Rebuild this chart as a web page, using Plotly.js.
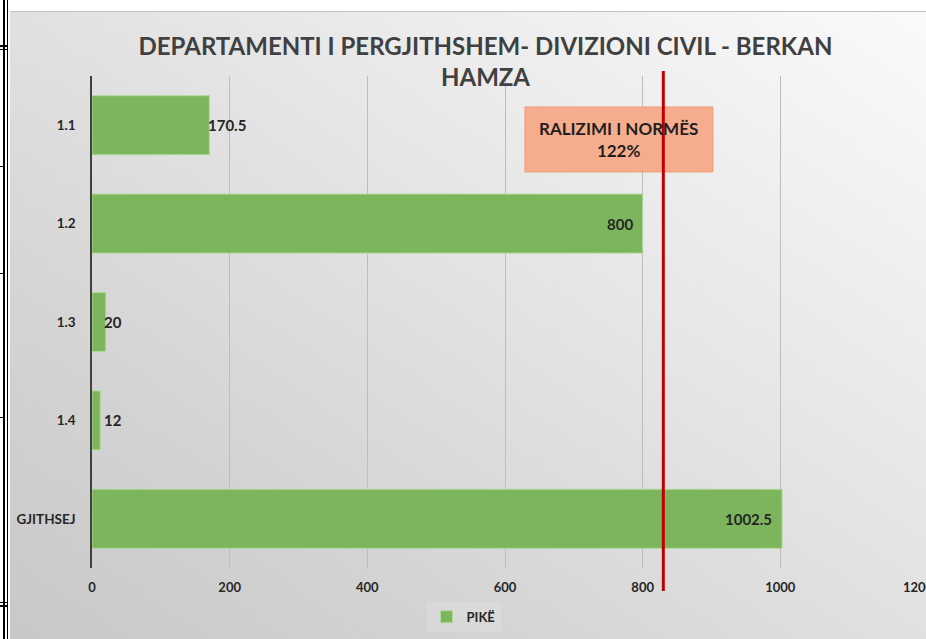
<!DOCTYPE html>
<html><head><meta charset="utf-8">
<script src="https://cdn.plot.ly/plotly-3.0.1.min.js"></script>
<style>
html,body{margin:0;padding:0;background:#fff;width:926px;height:639px;overflow:hidden;}
#bg{position:absolute;left:10px;top:11px;width:916px;height:628px;
  background:linear-gradient(to bottom left,#fafafa 0%,#e6e6e6 40%,#d3d3d3 75%,#c8c8c8 100%);
  border-top:1px solid #c2c2c2;}
#chart{position:absolute;left:0;top:0;width:926px;height:639px;}
.fr{position:absolute;background:#000;}
</style></head><body>
<div id="bg"></div>
<div class="fr" style="left:3px;top:0;width:1.5px;height:639px"></div>
<div class="fr" style="left:6.5px;top:0;width:1.5px;height:639px"></div>
<div class="fr" style="left:0;top:45px;width:8px;height:1.5px"></div>
<div class="fr" style="left:0;top:48.5px;width:8px;height:1.5px"></div>
<div class="fr" style="left:0;top:166px;width:4px;height:1px"></div>
<div class="fr" style="left:0;top:273px;width:4px;height:1px"></div>
<div class="fr" style="left:0;top:417px;width:4px;height:1px"></div>
<div class="fr" style="left:0;top:601.5px;width:8px;height:1.5px"></div>
<div class="fr" style="left:0;top:605px;width:8px;height:1.5px"></div>
<div id="chart"></div>
<script>
// ---- data ----
const categories = ['1.1', '1.2', '1.3', '1.4', 'GJITHSEJ'];
const values = [170.5, 800, 20, 12, 1002.5];
const seriesName = 'PIKË';
const xTickVals = [0, 200, 400, 600, 800, 1000, 1200];
const xTickText = ['0', '200', '400', '600', '800', '1000', '1200'];
const normValue = 830;               // red reference line (estimated)
const normLabel = ['RALIZIMI I NORMËS', '122%'];
const titleLines = ['DEPARTAMENTI I PERGJITHSHEM- DIVIZIONI CIVIL - BERKAN', 'HAMZA'];

// ---- layout geometry ----
const W = 926, H = 639;
const M = {l: 92, r: 8, t: 76, b: 70};
const plotW = W - M.l - M.r;
const xMax = 1200;
const pxPerUnit = plotW / xMax;
const FONT = 'Lato, "Open Sans", sans-serif';
const DARK = '#262626';

const trace = {
  type: 'bar',
  orientation: 'h',
  name: seriesName,
  y: categories,
  x: values,
  marker: {color: '#7db55d', line: {color: '#b3d89d', width: 1}},
  hoverinfo: 'x+y',
  showlegend: true
};

// data labels: inside end for long bars, straddling the end for short ones
// (y given as category index so numeric-looking names are not misread)
const labelAnns = values.map((v, i) => {
  const barPx = v * pxPerUnit;
  const base = {x: v, y: i, xref: 'x', yref: 'y', text: String(v), showarrow: false,
    yanchor: 'middle', font: {family: FONT, size: 15, color: DARK, weight: 700}};
  if (barPx > 200) return Object.assign(base, {xanchor: 'right', xshift: -8});
  return Object.assign(base, {xanchor: 'left', xshift: Math.max(-3.5, 10 - barPx)});
});

const boxAnn = {
  x: 765.5, y: 0.871, xref: 'x', yref: 'paper',
  text: normLabel.join('<br>'), showarrow: false,
  xanchor: 'center', yanchor: 'middle',
  font: {family: FONT, size: 17, color: '#1f1f1f', weight: 700}
};

const layout = {
  width: W, height: H,
  margin: M,
  paper_bgcolor: 'rgba(0,0,0,0)',
  plot_bgcolor: 'rgba(0,0,0,0)',
  font: {family: FONT, color: DARK},
  title: {
    text: titleLines.join('<br>'),
    x: 485.5 / W, xref: 'container', xanchor: 'center',
    y: 1 - 55 / H, yref: 'container', yanchor: 'top',
    font: {family: FONT, size: 24, color: '#404040', weight: 700}
  },
  bargap: 0.4,
  xaxis: {
    range: [0, xMax], tickvals: xTickVals, ticktext: xTickText,
    showgrid: true, gridcolor: '#bdbdbd', gridwidth: 1,
    zeroline: false, showline: false, ticks: '',
    ticklabelstandoff: 10, ticklabeloverflow: 'allow',
    tickfont: {family: FONT, size: 13, color: DARK, weight: 700},
    fixedrange: true
  },
  yaxis: {
    type: 'category', categoryorder: 'array', categoryarray: categories,
    autorange: 'reversed',
    showgrid: false, zeroline: false,
    showline: true, linecolor: '#404040', linewidth: 1.5,
    ticks: '', ticklabelstandoff: 12,
    tickfont: {family: FONT, size: 13.5, color: DARK, weight: 700},
    fixedrange: true
  },
  legend: {
    orientation: 'h', x: 0.405, xanchor: 'left', y: -0.097, yanchor: 'middle',
    bgcolor: 'rgba(255,255,255,0.12)',
    font: {family: FONT, size: 13, color: DARK, weight: 700}
  },
  shapes: [
    {type: 'rect', xref: 'x', yref: 'paper', x0: 629, x1: 902, y0: 0.805, y1: 0.937,
      fillcolor: '#f6ad8d', line: {color: '#f19b74', width: 1}, layer: 'above'},
    {type: 'line', xref: 'x', yref: 'paper', x0: normValue, x1: normValue,
      y0: -0.0467, y1: 1.0101, line: {color: '#c00000', width: 3}, layer: 'above'}
  ],
  annotations: labelAnns.concat([boxAnn])
};

Plotly.newPlot('chart', [trace], layout, {displayModeBar: false});
</script>
</body></html>
